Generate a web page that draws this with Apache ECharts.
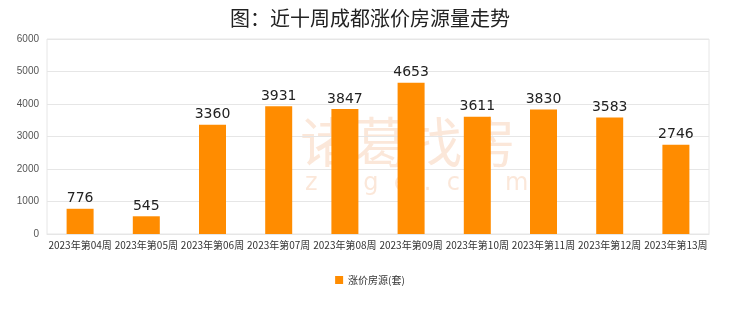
<!DOCTYPE html>
<html><head><meta charset="utf-8">
<script src="https://cdn.jsdelivr.net/npm/echarts@6/dist/echarts.min.js"></script>
<style>html,body{margin:0;padding:0;background:#fff}#c{width:740px;height:312px}</style>
</head><body><div id="c"></div>
<script>
const categories = ['2023年第04周','2023年第05周','2023年第06周','2023年第07周','2023年第08周','2023年第09周','2023年第10周','2023年第11周','2023年第12周','2023年第13周'];
const values = [776, 545, 3360, 3931, 3847, 4653, 3611, 3830, 3583, 2746];
const seriesName = '涨价房源(套)';
const chart = echarts.init(document.getElementById('c'));
chart.setOption({
  animation: false,
  title: { text: '图：近十周成都涨价房源量走势', left: 'center', top: 3,
    textStyle: { fontSize: 20, fontWeight: 'normal', color: '#222', fontFamily: 'Noto Sans CJK SC' } },
  graphic: [
    { type: 'text', left: 300, top: 115, z: -1, style: { text: '诸葛找房', fontSize: 54, fontFamily: 'Noto Sans CJK SC', fill: 'rgba(245,195,160,0.4)' } },
    { type: 'text', left: 305, top: 172, z: -1, style: { text: 'z  u  g  e  .  c  o  m', fontSize: 24, fontFamily: 'DejaVu Sans', fill: 'rgba(245,195,160,0.4)' } }
  ],
  grid: { left: 47, right: 31, top: 39, bottom: 78, show: true, borderColor: '#e6e6e6', borderWidth: 1 },
  legend: { bottom: 22, left: 'center', itemWidth: 8, itemHeight: 8, icon: 'rect',
    textStyle: { fontSize: 10, color: '#333', fontFamily: 'Noto Sans CJK SC' } },
  xAxis: { type: 'category', data: categories,
    axisLine: { lineStyle: { color: '#e6e6e6' } }, axisTick: { show: false },
    axisLabel: { fontSize: 10, color: '#333', interval: 0, margin: 6, fontFamily: 'Noto Sans CJK SC' } },
  yAxis: { type: 'value', min: 0, max: 6000, interval: 1000,
    axisLine: { show: false }, axisTick: { show: false },
    splitLine: { lineStyle: { color: '#e6e6e6' } },
    axisLabel: { fontSize: 10, color: '#555', margin: 8, formatter: v => String(v) } },
  series: [{ name: seriesName, type: 'bar', data: values, barWidth: 27,
    itemStyle: { color: '#ff8c00' },
    label: { show: true, position: 'top', fontSize: 14, color: '#222', distance: 3, fontFamily: 'DejaVu Sans' } }]
});
</script></body></html>
